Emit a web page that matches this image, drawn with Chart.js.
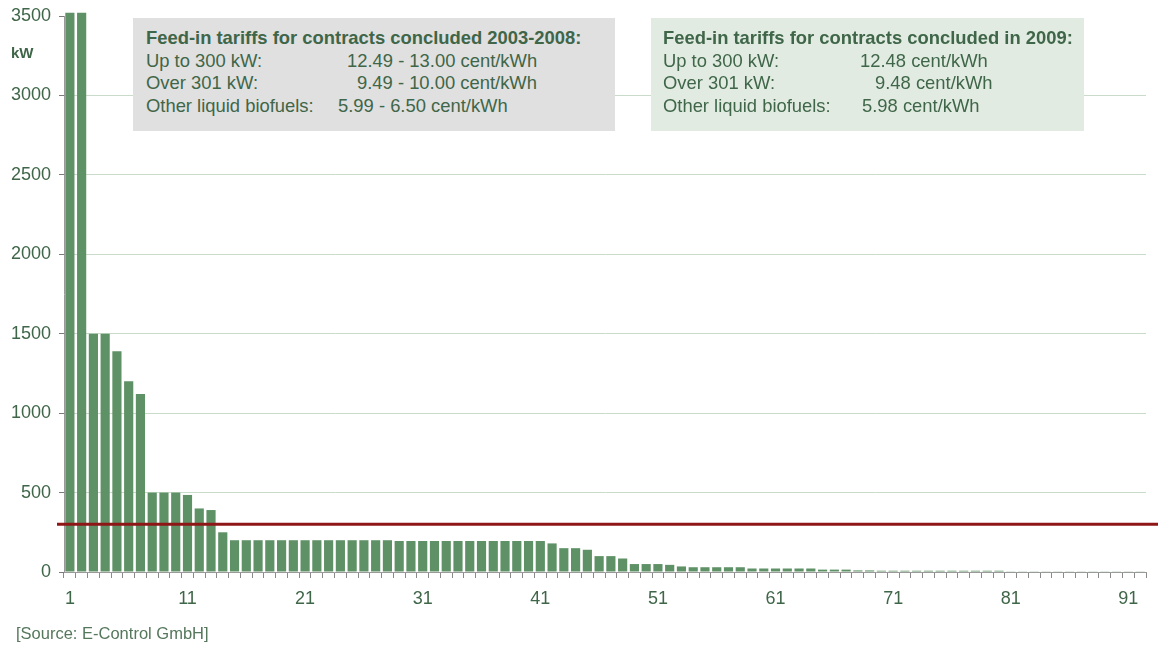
<!DOCTYPE html>
<html>
<head>
<meta charset="utf-8">
<script src="https://cdn.jsdelivr.net/npm/chart.js@4/dist/chart.umd.min.js"></script>
<style>
  html, body { margin: 0; padding: 0; background: #ffffff; }
  #wrap { position: relative; width: 1158px; height: 645px; overflow: hidden; font-family: "Liberation Sans", Arial, sans-serif; color: #3f6648; }
  canvas { position: absolute; left: 0; top: 0; }
  .box { position: absolute; }
  .ln { position: absolute; font-size: 18.4px; line-height: 22px; white-space: nowrap; }
  .b { font-weight: bold; }
  #unit { position: absolute; left: 11px; top: 43px; font-size: 15px; font-weight: bold; line-height: 20px; }
  #src { position: absolute; left: 16px; top: 622px; font-size: 16.5px; line-height: 22px; color: #55775c; }
</style>
</head>
<body>
<div id="wrap">
  <canvas id="c" width="1158" height="645"></canvas>
  <div class="box" style="left:133px;top:18px;width:482px;height:113px;background:#e0e0e0;"></div>
  <div class="box" style="left:651px;top:18px;width:433px;height:113px;background:#e1ebe2;"></div>
  <div id="boxes"></div>
  <div id="unit">kW</div>
  <div id="src">[Source: E-Control GmbH]</div>
</div>
<script>
// ---- data ----
const categories = [1,2,3,4,5,6,7,8,9,10,11,12,13,14,15,16,17,18,19,20,21,22,23,24,25,26,27,28,29,30,
  31,32,33,34,35,36,37,38,39,40,41,42,43,44,45,46,47,48,49,50,51,52,53,54,55,56,57,58,59,60,
  61,62,63,64,65,66,67,68,69,70,71,72,73,74,75,76,77,78,79,80,81,82,83,84,85,86,87,88,89,90,91,92];
const capacityKW = [3520,3520,1500,1500,1390,1200,1120,500,500,500,485,400,390,250,
  200,200,200,200,200,200,200,200,200,200,200,200,200,200,
  195,195,195,195,195,195,195,195,195,195,195,195,195,
  180,150,150,140,100,100,85,50,
  50,50,45,35,
  30,30,30,30,30,
  22,22,22,22,22,22,
  15,15,15,
  10,10,
  8,8,8,8,8,8,8,8,8,8,8,
  2,2,2,2,2,2,2,2,2,2,2,2];
const xTickLabels = ['1','11','21','31','41','51','61','71','81','91'];
const yTickValues = [0,500,1000,1500,2000,2500,3000,3500];
const thresholdKW = [300];

const boxOld = {
  title: 'Feed-in tariffs for contracts concluded 2003-2008:',
  rows: ['Up to 300 kW:', 'Over 301 kW:', 'Other liquid biofuels:'],
  values: ['12.49 - 13.00 cent/kWh', '9.49 - 10.00 cent/kWh', '5.99 - 6.50 cent/kWh']
};
const boxNew = {
  title: 'Feed-in tariffs for contracts concluded in 2009:',
  rows: ['Up to 300 kW:', 'Over 301 kW:', 'Other liquid biofuels:'],
  values: ['12.48 cent/kWh', '9.48 cent/kWh', '5.98 cent/kWh']
};

// ---- text boxes (HTML) ----
function addLine(text, left, top, bold) {
  const d = document.createElement('div');
  d.className = 'ln' + (bold ? ' b' : '');
  d.style.left = left + 'px';
  d.style.top = top + 'px';
  d.textContent = text;
  document.getElementById('boxes').appendChild(d);
}
const lineTops = [27, 49.5, 72, 94.5];
function buildBox(box, left, valueLefts) {
  addLine(box.title, left, lineTops[0], true);
  box.rows.forEach((r, i) => {
    addLine(r, left, lineTops[i + 1], false);
    addLine(box.values[i], valueLefts[i], lineTops[i + 1], false);
  });
}
buildBox(boxOld, 146, [347, 357, 338]);
buildBox(boxNew, 663, [860, 875, 862]);

// ---- chart ----
const textColor = '#3f6648';
const thresholdLine = {
  id: 'thresholdLine',
  afterDatasetsDraw(chart) {
    const y = chart.scales.y.getPixelForValue(thresholdKW[0]);
    const ctx = chart.ctx;
    ctx.save();
    ctx.strokeStyle = '#8e1616';
    ctx.lineWidth = 3;
    ctx.beginPath();
    ctx.moveTo(chart.chartArea.left - 7, y);
    ctx.lineTo(chart.width, y);
    ctx.stroke();
    ctx.restore();
  }
};

new Chart(document.getElementById('c'), {
  type: 'bar',
  data: {
    labels: categories.map(String),
    datasets: [{
      data: capacityKW,
      backgroundColor: '#5e9165',
      borderWidth: 0,
      categoryPercentage: 1.0,
      barPercentage: 0.78,
      clip: false
    }]
  },
  options: {
    responsive: false,
    animation: false,
    devicePixelRatio: 1,
    layout: { padding: { left: 0, right: 12, top: 16, bottom: 0 } },
    plugins: { legend: { display: false }, tooltip: { enabled: false } },
    scales: {
      x: {
        offset: true,
        afterFit(s) { s.height = 73; },
        border: { color: '#9a9a9a', width: 1 },
        grid: { display: true, offset: true, drawOnChartArea: false, drawTicks: true, tickLength: 6, tickColor: '#8a8a8a' },
        ticks: {
          autoSkip: false, maxRotation: 0, minRotation: 0, padding: 10,
          color: textColor,
          font: { family: '"Liberation Sans", Arial, sans-serif', size: 18 },
          callback(v, i) { const l = String(categories[i]); return xTickLabels.includes(l) ? l : ''; }
        }
      },
      y: {
        min: 0, max: 3500,
        afterFit(s) { s.width = 64; s.paddingTop = 0; s.paddingBottom = 0; },
        afterBuildTicks(s) { s.ticks = yTickValues.map(v => ({ value: v })); },
        border: { color: '#9a9a9a', width: 1 },
        grid: {
          tickLength: 5,
          tickColor: '#7a7a7a',
          color(ctx) { const v = ctx.tick && ctx.tick.value; return (v === 0 || v === 3500) ? 'rgba(0,0,0,0)' : '#c9dcc9'; },
          lineWidth: 1
        },
        ticks: {
          padding: 8,
          color: textColor,
          font: { family: '"Liberation Sans", Arial, sans-serif', size: 18 },
          callback(v) { return String(v); }
        }
      }
    }
  },
  plugins: [thresholdLine]
});
</script>
</body>
</html>
